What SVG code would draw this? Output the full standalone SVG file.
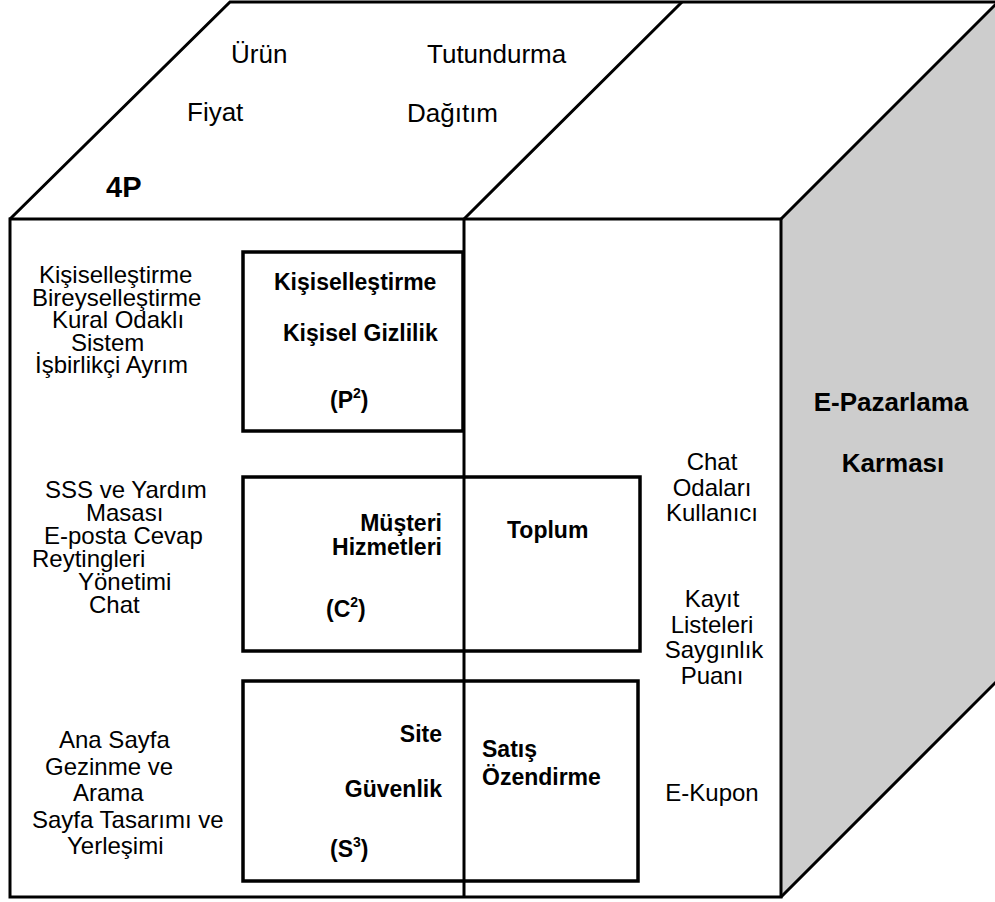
<svg xmlns="http://www.w3.org/2000/svg" width="995" height="902" viewBox="0 0 995 902">
  <style>
    .edge { fill: none; stroke: #000; stroke-width: 3; stroke-linejoin: miter; }
    .box { fill: none; stroke: #000; stroke-width: 3.5; }
    .t { font-family: "Liberation Sans", Arial, sans-serif; font-size: 24px; fill: #000; }
    .top { font-size: 26px; }
    .b { font-family: "Liberation Sans", Arial, sans-serif; font-size: 23px; font-weight: bold; fill: #000; }
    .big { font-size: 26px; }
    .mid { text-anchor: middle; }
    .end { text-anchor: end; }
  </style>

  <!-- cube faces -->
  <g id="cube">
    <rect x="0" y="0" width="995" height="902" fill="#fff"/>
    <polygon points="781,219 998,2 998,679 781,897" fill="#cdcdcd"/>
    <path class="edge" d="M10,219 L230,2 H998"/>
    <path class="edge" d="M10,219 H781 V897 H10 Z"/>
    <path class="edge" d="M781,219 L998,2 M781,897 L998,680"/>
  </g>

  <!-- edges dividing the faces -->
  <g id="connectors">
    <path class="edge" d="M464,219 L682,2 M464,219 V897"/>
  </g>

  <!-- top face: 4P -->
  <g id="node-4p">
    <text class="t top" x="231" y="63">Ürün</text>
    <text class="t top" x="427" y="63">Tutundurma</text>
    <text class="t top" x="187" y="121">Fiyat</text>
    <text class="t top" x="407" y="122">Dağıtım</text>
    <text class="b" x="106" y="197" style="font-size:29px">4P</text>
  </g>

  <!-- right face -->
  <g id="node-emix">
    <text class="b big mid" x="891" y="411">E-Pazarlama</text>
    <text class="b big mid" x="893" y="472">Karması</text>
  </g>

  <!-- personalisation block -->
  <g id="node-p2-list">
    <text class="t" x="39" y="283">Kişiselleştirme</text>
    <text class="t" x="32" y="305.5">Bireyselleştirme</text>
    <text class="t" x="52" y="328">Kural Odaklı</text>
    <text class="t" x="71" y="350.5">Sistem</text>
    <text class="t" x="35" y="373">İşbirlikçi Ayrım</text>
  </g>
  <g id="node-p2">
    <rect class="box" x="243" y="252" width="220" height="179"/>
    <text class="b" x="274" y="290">Kişiselleştirme</text>
    <text class="b" x="283" y="341">Kişisel Gizlilik</text>
    <text class="b" x="330" y="408">(P<tspan font-size="14" dy="-10">2</tspan><tspan dy="10">)</tspan></text>
  </g>

  <!-- customer service block -->
  <g id="node-c2-list">
    <text class="t" x="45" y="498">SSS ve Yardım</text>
    <text class="t" x="86" y="521">Masası</text>
    <text class="t" x="44" y="544">E-posta Cevap</text>
    <text class="t" x="32" y="567">Reytingleri</text>
    <text class="t" x="78" y="590">Yönetimi</text>
    <text class="t" x="89" y="613">Chat</text>
  </g>
  <g id="node-c2">
    <rect class="box" x="243" y="477" width="397" height="174"/>
    <text class="b end" x="442" y="531">Müşteri</text>
    <text class="b end" x="442" y="555">Hizmetleri</text>
    <text class="b" x="326" y="617">(C<tspan font-size="14" dy="-10">2</tspan><tspan dy="10">)</tspan></text>
    <text class="b" x="507" y="538">Toplum</text>
  </g>
  <g id="node-community-list">
    <text class="t mid" x="712" y="470">Chat</text>
    <text class="t mid" x="712" y="495.5">Odaları</text>
    <text class="t mid" x="712" y="521">Kullanıcı</text>
    <text class="t mid" x="712" y="607">Kayıt</text>
    <text class="t mid" x="712" y="633">Listeleri</text>
    <text class="t mid" x="714" y="658">Saygınlık</text>
    <text class="t mid" x="712" y="684">Puanı</text>
  </g>

  <!-- site block -->
  <g id="node-s3-list">
    <text class="t" x="59" y="748">Ana Sayfa</text>
    <text class="t" x="45" y="774.5">Gezinme ve</text>
    <text class="t" x="73" y="801">Arama</text>
    <text class="t" x="32" y="827.5">Sayfa Tasarımı ve</text>
    <text class="t" x="67" y="854">Yerleşimi</text>
  </g>
  <g id="node-s3">
    <rect class="box" x="243" y="681" width="395" height="200"/>
    <text class="b end" x="442" y="742">Site</text>
    <text class="b end" x="442" y="797">Güvenlik</text>
    <text class="b" x="330" y="857">(S<tspan font-size="14" dy="-10">3</tspan><tspan dy="10">)</tspan></text>
    <text class="b" x="482" y="757">Satış</text>
    <text class="b" x="482" y="785">Özendirme</text>
  </g>
  <g id="node-promo-list">
    <text class="t mid" x="712" y="801">E-Kupon</text>
  </g>
</svg>
